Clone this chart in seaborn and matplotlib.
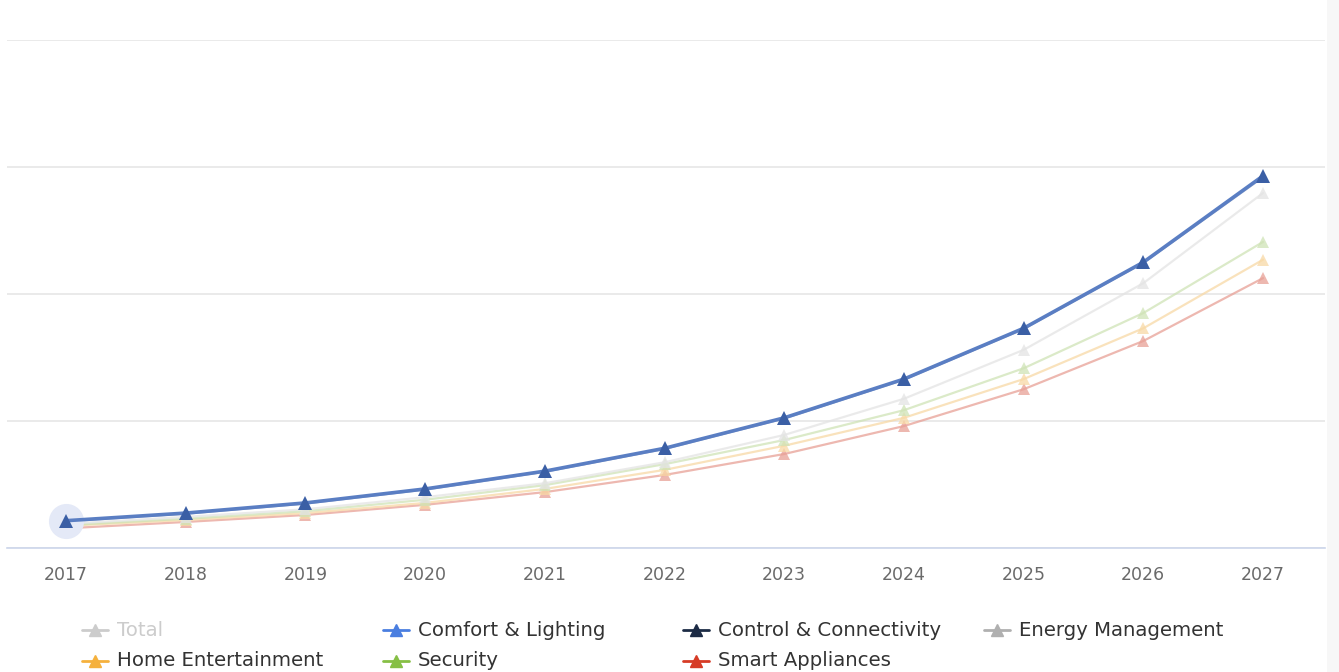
import numpy as np
import pandas as pd
import seaborn as sns
import matplotlib.pyplot as plt
from matplotlib.lines import Line2D
from matplotlib.patches import Rectangle

# values (no y labels shown, one grid step = 20)
years = [2017, 2018, 2019, 2020, 2021, 2022, 2023, 2024, 2025, 2026, 2027]
comfort = [4.3, 5.5, 7.1, 9.3, 12.1, 15.7, 20.5, 26.6, 34.6, 45.0, 58.6]
control = [4.2, 5.4, 7.0, 9.2, 12.0, 15.6, 20.4, 26.5, 34.5, 44.9, 58.4]
energy = [3.8, 4.9, 6.1, 8.0, 10.2, 13.5, 17.8, 23.5, 31.2, 41.7, 55.9]
security = [3.6, 4.6, 5.8, 7.6, 9.9, 13.2, 17.0, 21.7, 28.3, 37.0, 48.2]
home = [3.5, 4.4, 5.5, 7.1, 9.3, 12.3, 16.1, 20.5, 26.6, 34.6, 45.4]
smart = [3.1, 4.1, 5.2, 6.8, 8.8, 11.5, 14.8, 19.2, 25.0, 32.6, 42.5]

legend_names = ["Total", "Comfort & Lighting", "Control & Connectivity", "Energy Management",
                "Home Entertainment", "Security", "Smart Appliances"]
legend_colors = ["#cccccc", "#4a7ee0", "#1c2b45", "#b0b0b0", "#f5b13d", "#86bf45", "#d63b26"]

sns.set_theme(style="white")
plt.rcParams['font.family'] = ['DejaVu Sans']

fig = plt.figure(figsize=(13.39, 6.72), dpi=100)
ax = fig.add_axes([7 / 1339, (672 - 548) / 672, (1325 - 7) / 1339, (548 - 40) / 672])

# faded series first
faded = [
    (smart, "#e8a096"),
    (home, "#f8d9a6"),
    (security, "#cfe3b6"),
    (energy, "#e4e4e4"),
    (control, "#8fa0c2"),
]
for vals, col in faded:
    sns.lineplot(x=years, y=vals, ax=ax, color=col, lw=1.6, marker="^",
                 markersize=9, markeredgewidth=0, alpha=0.75)

# hover halo on first point
ax.scatter([years[0]], [comfort[0]], s=640, color="#e4e9f7", zorder=2, lw=0)

sns.lineplot(x=years, y=comfort, ax=ax, color="#5a7ec3", lw=2.6, marker="^",
             markersize=10, markeredgewidth=0, markerfacecolor="#3b5fa5", zorder=5)

ax.set_xlim(2016.507, 2027.518)
ax.set_ylim(0, 80)
ax.set_yticks([0, 20, 40, 60, 80])
ax.set_yticklabels([])
ax.tick_params(axis="y", length=0)
ax.yaxis.grid(True, color="#e6e6e6", lw=1.2)
ax.set_axisbelow(True)
for s in ["top", "left", "right"]:
    ax.spines[s].set_visible(False)
ax.spines["bottom"].set_color("#ccd6eb")
ax.spines["bottom"].set_linewidth(1.2)
ax.set_xticks(years)
ax.set_xticklabels([str(y) for y in years], color="#6a6a6a", fontsize=12.5)
ax.tick_params(axis="x", length=0, pad=13)
ax.set_xlabel("")
ax.set_ylabel("")

# light strip on the right edge
fig.add_artist(Rectangle((1327 / 1339, 0), 12 / 1339, 1, transform=fig.transFigure,
                         color="#f7f7f7", lw=0, zorder=0))

# legend, drawn entry by entry
col_x = [82, 383, 683, 984]
row_y = [630, 661]
for i, (name, col) in enumerate(zip(legend_names, legend_colors)):
    cx = col_x[i % 4]
    cy = row_y[i // 4]
    fy = (672 - cy) / 672
    fig.add_artist(Line2D([cx / 1339, (cx + 26) / 1339], [fy, fy], transform=fig.transFigure,
                          color=col, lw=2, marker=None))
    fig.add_artist(Line2D([(cx + 13) / 1339], [fy], transform=fig.transFigure,
                          color=col, marker="^", markersize=8, lw=0))
    txt_col = "#cccccc" if name == "Total" else "#333333"
    fig.text((cx + 35) / 1339, fy, name, color=txt_col, fontsize=14.2, va="center", ha="left")

fig.savefig("out.png", dpi=100)
